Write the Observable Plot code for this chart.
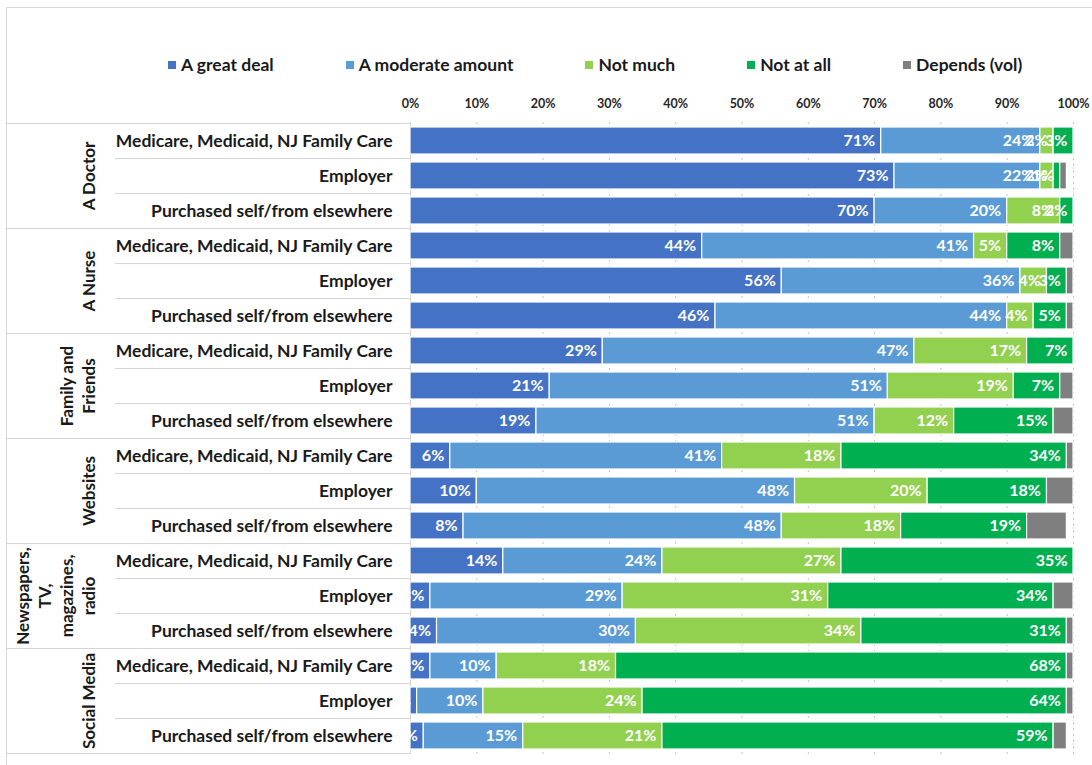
<!DOCTYPE html>
<html>
<head>
<meta charset="utf-8">
<script src="https://cdn.jsdelivr.net/npm/d3@7"></script>
<script src="https://cdn.jsdelivr.net/npm/@observablehq/plot@0.6"></script>
<style>
  body { margin: 0; background: #fff; font-family: Lato, "Open Sans", sans-serif; }
  #wrap { position: relative; width: 1092px; height: 765px; overflow: hidden; background: #fff; }
  #border { position: absolute; left: 6px; top: 7px; right: -10px; bottom: -10px;
            border-left: 1px solid #d9d9d9; border-top: 1px solid #d9d9d9; }
  #legend { position: absolute; top: 54px; left: 168px; display: flex; gap: 72px;
            font-weight: bold; font-size: 17.5px; color: #1a1a1a; line-height: 22px; }
  #legend .item { display: flex; align-items: center; white-space: nowrap; }
  #legend .sw { width: 8px; height: 8px; margin-right: 5px; }
  #chart { position: absolute; left: 0; top: 80px; }
  #chart svg text { font-weight: bold; }
</style>
</head>
<body>
<div id="wrap">
  <div id="border"></div>
  <div id="legend"></div>
  <div id="chart"></div>
</div>
<script>
// ---- data ----
const groups = ["A Doctor", "A Nurse", "Family and Friends", "Websites", "Newspapers, TV, magazines, radio", "Social Media"];
const groupLabels = ["A Doctor", "A Nurse", "Family and\nFriends", "Websites", "Newspapers,\nTV,\nmagazines,\nradio", "Social Media"];
const insurance = ["Medicare, Medicaid, NJ Family Care", "Employer", "Purchased self/from elsewhere"];
const series = ["A great deal", "A moderate amount", "Not much", "Not at all", "Depends (vol)"];
const colors = ["#4472C4", "#5B9BD5", "#92D050", "#00B050", "#7F7F7F"];
const xTicks = [0, 10, 20, 30, 40, 50, 60, 70, 80, 90, 100];

const greatDeal = [71, 73, 70, 44, 56, 46, 29, 21, 19, 6, 10, 8, 14, 3, 4, 3, 1, 2];
const moderate  = [24, 22, 20, 41, 36, 44, 47, 51, 51, 41, 48, 48, 24, 29, 30, 10, 10, 15];
const notMuch   = [2, 2, 8, 5, 4, 4, 17, 19, 12, 18, 20, 18, 27, 31, 34, 18, 24, 21];
const notAtAll  = [3, 1, 2, 8, 3, 5, 7, 7, 15, 34, 18, 19, 35, 34, 31, 68, 64, 59];
const depends   = [0, 1, 0, 2, 1, 1, 0, 2, 3, 1, 4, 6, 0, 3, 1, 1, 1, 2];
const seriesValues = [greatDeal, moderate, notMuch, notAtAll, depends];

// ---- build tables ----
const rows = groups.flatMap((g, gi) => insurance.map((ins, ii) => ({key: gi * 3 + ii, group: g, ins, pos: ii})));
const keys = rows.map(r => r.key);
const segs = [];
rows.forEach((r, i) => {
  let acc = 0;
  series.forEach((s, si) => {
    const v = seriesValues[si][i];
    segs.push({key: r.key, series: s, value: v, start: acc, end: acc + v});
    acc += v;
  });
});
const labels = segs.filter(d => d.value > 0 && d.series !== "Depends (vol)");
const groupRows = groups.map((g, gi) => ({key: gi * 3 + 1, label: groupLabels[gi]}));

// ---- layout ----
const W = 1092, H = 685, mL = 410, mR = 19, mT = 42, mB = 11;
const step = (H - mT - mB) / keys.length;
const pxToX = px => (px - mL) / (W - mL - mR) * 100;

// ---- legend ----
const leg = d3.select("#legend");
series.forEach((s, i) => {
  const it = leg.append("div").attr("class", "item");
  it.append("div").attr("class", "sw").style("background", colors[i]);
  it.append("span").text(s);
});

// ---- chart ----
const chart = Plot.plot({
  width: W, height: H,
  marginLeft: mL, marginRight: mR, marginTop: mT, marginBottom: mB,
  style: {fontFamily: "Lato, 'Open Sans', sans-serif", background: "transparent", overflow: "visible", color: "#1a1a1a"},
  x: {domain: [0, 100], axis: null},
  y: {domain: keys, paddingInner: 0.22, paddingOuter: 0.11, axis: null},
  color: {domain: series, range: colors},
  marks: [
    Plot.gridX(xTicks, {stroke: "#c4c4c4", strokeOpacity: 1, strokeDasharray: "2,4"}),
    Plot.axisX(xTicks, {anchor: "top", tickSize: 0, tickPadding: 15, tickFormat: d => d + "%", fontSize: 12.5, fontWeight: "bold", fill: "#262626"}),
    // separators in label area
    Plot.ruleY(rows.filter(r => r.pos !== 2), {y: "key", dy: step / 2, x1: pxToX(115), x2: 0, stroke: "#d4d4d4"}),
    Plot.ruleY(rows.filter(r => r.pos === 2), {y: "key", dy: step / 2, x1: pxToX(6), x2: 0, stroke: "#d4d4d4"}),
    Plot.ruleY(rows.slice(0, 1), {y: "key", dy: -step / 2, x1: pxToX(6), x2: 0, stroke: "#d4d4d4"}),
    Plot.ruleX([0], {stroke: "#d4d4d4"}),
    Plot.barX(segs, {y: "key", x1: "start", x2: "end", fill: "series", stroke: "white", strokeWidth: 1.2}),
    Plot.text(labels, {y: "key", x: "end", text: d => d.value + "%", textAnchor: "end", dx: -6, fill: "white", fontSize: 16, fontWeight: "bold", clip: true}),
    Plot.text(rows, {y: "key", frameAnchor: "left", text: "ins", textAnchor: "end", dx: -18, fontSize: 17.5, fontWeight: "bold", fill: "#1a1a1a"}),
    Plot.text(groupRows, {y: "key", frameAnchor: "left", text: "label", rotate: -90, textAnchor: "middle", lineAnchor: "bottom", lineHeight: 1.28, dx: -316, fontSize: 17, fontWeight: "bold", fill: "#1a1a1a"})
  ]
});
document.getElementById("chart").appendChild(chart);
</script>
</body>
</html>
